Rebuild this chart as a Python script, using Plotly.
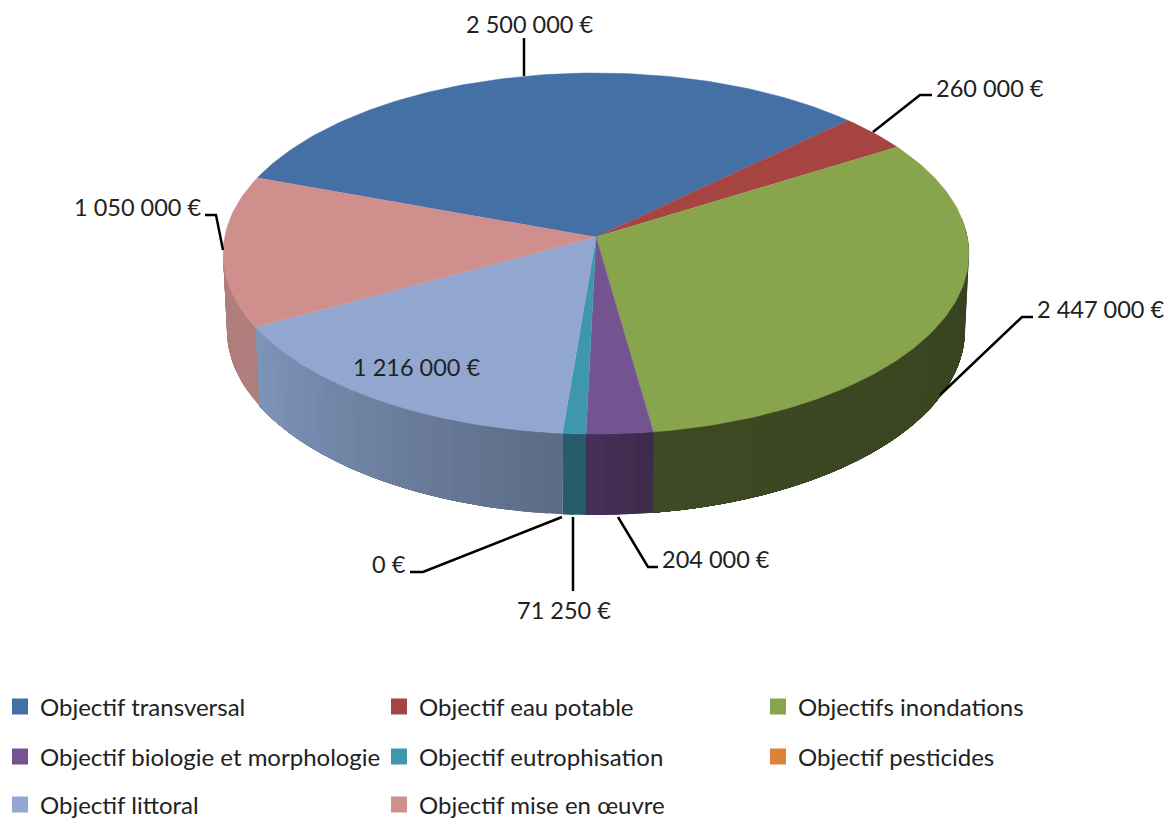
import numpy as np
import plotly.graph_objects as go

categories = ["Objectif transversal", "Objectif eau potable", "Objectifs inondations",
              "Objectif biologie et morphologie", "Objectif eutrophisation", "Objectif pesticides",
              "Objectif littoral", "Objectif mise en œuvre"]
values = [2500000, 260000, 2447000, 204000, 71250, 0, 1216000, 1050000]
top_colors = ["#4470a6", "#a64442", "#88a54e", "#735490", "#3e97ae", "#db8437", "#92a7cf", "#ce8f8d"]
wall_left = ["#4470a6", "#a64442", "#3e4a24", "#46315a", "#265d6c", "#db8437", "#7e95ba", "#b07e7c"]
wall_right = ["#4470a6", "#a64442", "#37411e", "#3c2a4a", "#265a6a", "#db8437", "#5b6b85", "#b07e7c"]
label_texts = ["2 500 000 €", "260 000 €", "2 447 000 €", "204 000 €", "71 250 €", "0 €", "1 216 000 €", "1 050 000 €"]
label_pos = [(529, 24), (990, 88), (1100, 309), (716, 559), (564, 610), (389, 564), (416, 367), (137, 207)]
leaders = [
    [(524, 38), (524, 76)],
    [(873, 132), (920, 95), (932, 95)],
    [(940, 395), (1022, 317), (1033, 317)],
    [(618, 517), (648, 567), (658, 567)],
    [(573, 517), (573, 591)],
    [(562, 517), (423, 572), (410, 572)],
    [(223, 250), (216, 215), (205, 215)],
]
legend_rows = [[0, 1, 2], [3, 4, 5], [6, 7]]
START_DEG = -70.0
K = 0.0914
FONT = "Lato"


def project(t, cx, cy, R, S):
    X, Y = np.sin(t), np.cos(t)
    w = 1 + K * Y
    return cx + R * X / w, cy - S * Y / w


def top(t):
    return project(t, 596.0, 237.0, 371.4, 179.0)


def bottom(t):
    return project(t, 596.0, 313.0, 367.5, 183.5)


def hex2rgb(h):
    return np.array([int(h[i:i + 2], 16) for i in (1, 3, 5)], float)


def mix(a, b, f):
    c = hex2rgb(a) * (1 - f) + hex2rgb(b) * f
    return "rgb(%d,%d,%d)" % tuple(c.round())


total = sum(values)
edges = np.radians(START_DEG + np.cumsum([0] + values) / total * 360)
fig = go.Figure()
NOHOVER = dict(hoverinfo="skip", showlegend=False, mode="lines", fill="toself")

# side walls: each shade paints from its own angle to the end of the slice and
# the next shade covers it, so no seams show. Angles run clockwise from the back.
WALL_LO, WALL_HI = np.radians(84), np.radians(264)
for i in range(len(values)):
    lo, hi = max(edges[i], WALL_LO), min(edges[i + 1], WALL_HI)
    if values[i] == 0 or hi <= lo:
        continue
    n = max(2, int(np.degrees(hi - lo) / 2))
    ts = np.linspace(lo, hi, n + 1)
    for j in range(n):
        s = np.linspace(ts[j], hi, n - j + 2)
        xt, yt = top(s)
        xb, yb = bottom(s[::-1])
        col = mix(wall_left[i], wall_right[i], 1 - (j + .5) / n)
        fig.add_trace(go.Scatter(x=np.r_[xt, xb], y=np.r_[yt, yb], fillcolor=col,
                                 line=dict(width=0), **NOHOVER))

# top faces
for i in range(len(values)):
    if values[i] == 0:
        continue
    s = np.linspace(edges[i], edges[i + 1], max(3, int(np.degrees(edges[i + 1] - edges[i]))))
    xt, yt = top(s)
    fig.add_trace(go.Scatter(x=np.r_[596.0, xt], y=np.r_[237.0, yt], fillcolor=top_colors[i],
                             line=dict(color=top_colors[i], width=0.5), **NOHOVER))

# legend, one row per legend box
legends = {}
row_y = [707, 757, 805]
for r, row in enumerate(legend_rows):
    key = "legend" if r == 0 else "legend%d" % (r + 1)
    legends[key] = dict(orientation="h", x=0, xanchor="left", y=1 - row_y[r] / 818, yanchor="middle",
                        entrywidth=334, entrywidthmode="pixels", itemwidth=30, borderwidth=0,
                        bgcolor="rgba(0,0,0,0)", font=dict(family=FONT, size=24, color="#222222"),
                        traceorder="normal", itemclick=False, itemdoubleclick=False)
    for i in row:
        fig.add_trace(go.Scatter(x=[None], y=[None], mode="markers", name=categories[i], legend=key,
                                 marker=dict(symbol="square", size=16, color=top_colors[i]),
                                 hoverinfo="skip", showlegend=True))

annotations = [dict(x=p[0], y=p[1], text=t, showarrow=False, xref="x", yref="y",
                    font=dict(family=FONT, size=23.5, color="#222222"))
               for t, p in zip(label_texts, label_pos)]
shapes = [dict(type="path", xref="x", yref="y", line=dict(color="#000000", width=2.5),
               path="M " + " L ".join("%g,%g" % p for p in pts)) for pts in leaders]

fig.update_layout(margin=dict(l=0, r=0, t=0, b=0, autoexpand=False), paper_bgcolor="white", plot_bgcolor="white",
                  width=1167, height=818, annotations=annotations, shapes=shapes,
                  xaxis=dict(range=[0, 1167], visible=False, fixedrange=True),
                  yaxis=dict(range=[818, 0], visible=False, fixedrange=True), **legends)
fig.write_html("out.html", config=dict(displayModeBar=False),
               post_script="document.body.style.margin='0';")
